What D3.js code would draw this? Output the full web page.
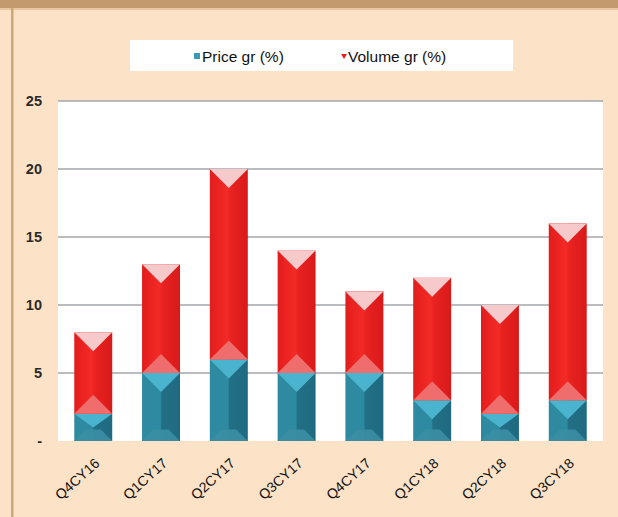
<!DOCTYPE html>
<html>
<head>
<meta charset="utf-8">
<script src="https://cdn.jsdelivr.net/npm/d3@7"></script>
<style>
body{margin:0;background:#fce2c6;}
text{font-family:"Liberation Sans",Arial,sans-serif;}
</style>
</head>
<body>
<div id="container"></div>
<script>
// chart data
var quarters = ["Q4CY16","Q1CY17","Q2CY17","Q3CY17","Q4CY17","Q1CY18","Q2CY18","Q3CY18"];
var priceGr = [2,5,6,5,5,3,2,3];
var volumeGr = [6,8,14,9,6,9,8,13];
var yTicks = [0,5,10,15,20,25];
var seriesNames = ["Price gr (%)","Volume gr (%)"];

var W = 618, H = 517;
var margin = {top: 101, right: 15, bottom: 76, left: 58};
var width = 603 - margin.left, height = 441 - margin.top;

var svg = d3.select("#container").append("svg")
	.attr("width", W)
	.attr("height", H);

// frame
svg.append("rect").attr("width",W).attr("height",H).style("fill","#fce2c6");
svg.append("rect").attr("width",W).attr("height",8).style("fill","#c39a6d");
svg.append("rect").attr("x",0).attr("y",8).attr("width",W).attr("height",2).style("fill","#e8c7a2");
svg.append("rect").attr("x",11).attr("y",8).attr("width",2.5).attr("height",H).style("fill","#d2a777");

var g = svg.append("g")
	.attr("transform","translate(" + margin.left + "," + margin.top + ")");

var x = d3.scaleBand().domain(quarters).range([0,width]).paddingInner(0.44).paddingOuter(0.24);
var y = d3.scaleLinear().domain([0,25]).range([height,0]);

g.append("rect").attr("width",width).attr("height",height).style("fill","#fff");

// grid
g.selectAll(".grid").data(yTicks.filter(function(d){return d>0;})).enter()
	.append("line")
	.attr("class","grid")
	.attr("x1",0).attr("x2",width)
	.attr("y1",function(d){return y(d);}).attr("y2",function(d){return y(d);})
	.style("stroke","#a3a6ab").style("stroke-width",1.5);

// y axis
var yAxis = d3.axisLeft(y).tickValues(yTicks).tickSize(0).tickPadding(16)
	.tickFormat(function(d){return d===0 ? "-" : d;});
var ya = g.append("g").call(yAxis);
ya.select(".domain").remove();
ya.selectAll("text").style("font-size","14.5px").style("fill","#2a2a2a").style("font-weight","bold");

// x axis
var xAxis = d3.axisBottom(x).tickSize(0);
var xa = g.append("g").attr("transform","translate(0," + height + ")").call(xAxis);
xa.select(".domain").remove();
xa.selectAll("text")
	.style("font-size","14px").style("fill","#111")
	.style("text-anchor","end")
	.attr("x",0).attr("y",0).attr("dy","0.35em")
	.attr("transform","translate(4,20) rotate(-42)");

// gradients
var defs = svg.append("defs");
function grad(id, stops){
	var lg = defs.append("linearGradient").attr("id",id).attr("x1","0%").attr("x2","100%").attr("y1","0%").attr("y2","0%");
	stops.forEach(function(s){lg.append("stop").attr("offset",s[0]).attr("stop-color",s[1]);});
}
grad("redG", [["0%","#e21d1d"],["45%","#f42a26"],["55%","#e82220"],["100%","#d81a1a"]]);
grad("blueG", [["0%","#2e8aa0"],["48%","#2c8aa1"],["52%","#226f86"],["100%","#1f6a80"]]);

var data = quarters.map(function(q,i){return {q:q, p:priceGr[i], v:volumeGr[i]};});
var bw = x.bandwidth(), th = bw/2;

var bars = g.selectAll(".bar").data(data).enter().append("g").attr("class","bar")
	.attr("transform",function(d){return "translate(" + x(d.q) + ",0)";});

// price segment
bars.append("rect")
	.attr("y",function(d){return y(d.p);})
	.attr("width",bw)
	.attr("height",function(d){return y(0)-y(d.p);})
	.style("fill","url(#blueG)");
bars.append("path")
	.attr("d",function(d){var b=y(0), h=Math.min(th*0.6,(y(0)-y(d.p))/2); return "M0,"+b+"L"+bw+","+b+"L"+(bw-h)+","+(b-h)+"L"+h+","+(b-h)+"Z";})
	.style("fill","#3b8ea3").style("opacity",0.9);
bars.append("path")
	.attr("d",function(d){var t=y(d.p), h=Math.min(th,(y(0)-y(d.p))/2); return "M0,"+t+"L"+bw+","+t+"L"+bw/2+","+(t+h)+"Z";})
	.style("fill","#4ab3cd");

// volume segment
bars.append("rect")
	.attr("y",function(d){return y(d.p+d.v);})
	.attr("width",bw)
	.attr("height",function(d){return y(d.p)-y(d.p+d.v);})
	.style("fill","url(#redG)");
bars.append("path")
	.attr("d",function(d){var b=y(d.p); return "M0,"+b+"L"+bw+","+b+"L"+bw/2+","+(b-th)+"Z";})
	.style("fill","#ef6d6c");
bars.append("path")
	.attr("d",function(d){var t=y(d.p+d.v); return "M0,"+t+"L"+bw+","+t+"L"+bw/2+","+(t+th)+"Z";})
	.style("fill","#f6c9cb");

// legend
var lg = svg.append("g");
lg.append("rect").attr("x",130).attr("y",40).attr("width",383).attr("height",31).style("fill","#fff");
lg.append("rect").attr("x",194).attr("y",53).attr("width",6).attr("height",6).style("fill","#3a9ab6");
lg.append("path").attr("d","M341,54L347,54L344,59Z").style("fill","#e8211f");
lg.append("text").attr("x",202).attr("y",62).text(seriesNames[0]).style("font-size","15.5px").style("fill","#111");
lg.append("text").attr("x",348).attr("y",62).text(seriesNames[1]).style("font-size","15.5px").style("fill","#111");
</script>
</body>
</html>
